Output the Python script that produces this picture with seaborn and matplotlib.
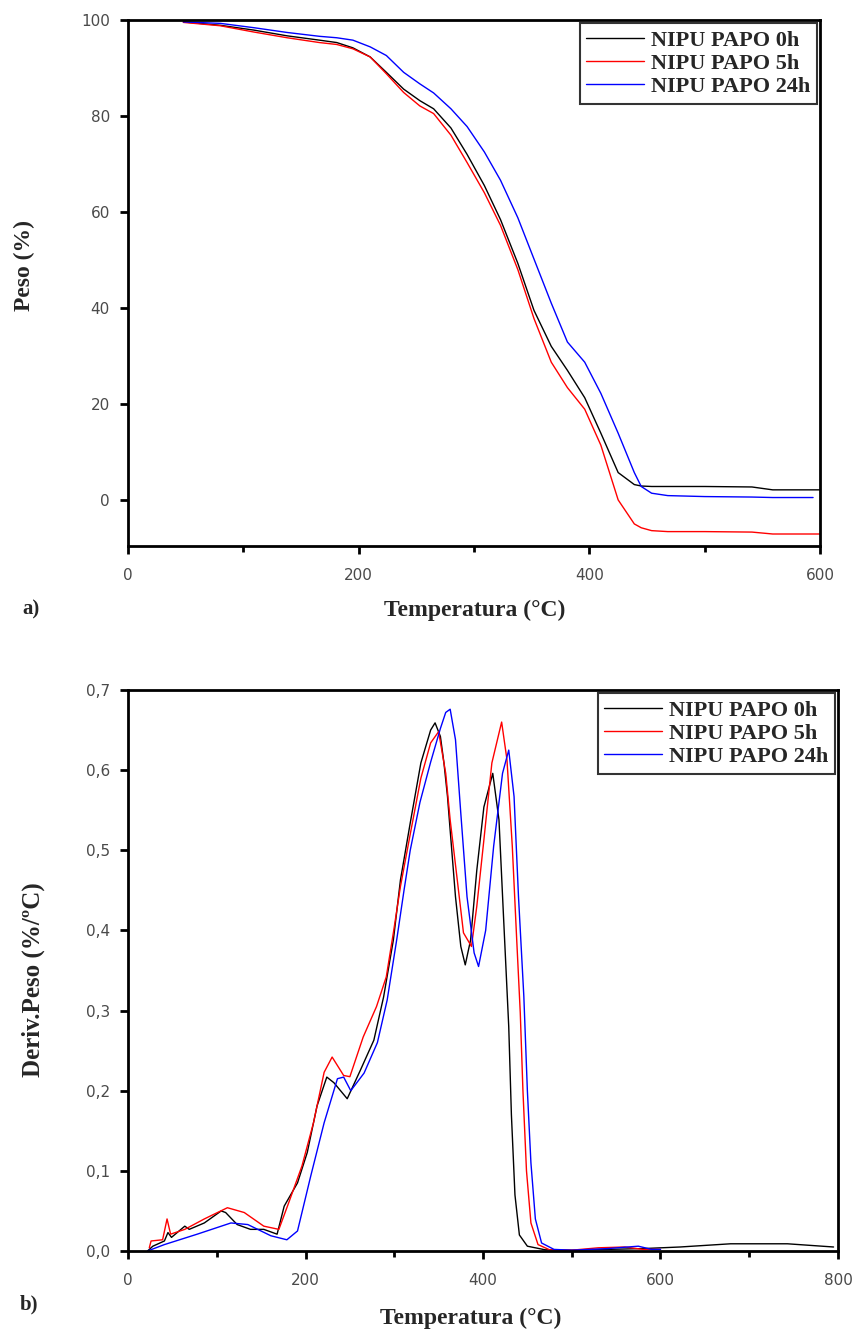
import numpy as np
import pandas as pd
import matplotlib
matplotlib.use("Agg")
import matplotlib.pyplot as plt
import seaborn as sns
from matplotlib.ticker import FixedLocator, FuncFormatter

series_names = ["NIPU PAPO 0h", "NIPU PAPO 5h", "NIPU PAPO 24h"]
colors = ["black", "red", "blue"]

# ---------------- Panel a: TGA (Peso %) ----------------
tga_T = [48, 80, 109, 138, 166, 181, 195, 210, 224, 239, 253, 265, 280, 294, 309,
         323, 338, 352, 367, 381, 396, 410, 425, 439, 445, 454, 468, 500, 541, 559,
         570, 594, 600]
tga_0h = [99.6, 98.9, 97.9, 96.7, 95.8, 95.3, 94.2, 92.3, 89.1, 85.6, 83.2, 81.5, 77.5, 72.0, 65.5,
          58.4, 49.3, 39.5, 32.0, 27.0, 21.3, 13.9, 5.7, 3.2, 2.9, 2.8, 2.8, 2.8, 2.7, 2.1,
          2.1, 2.1, 2.1]
tga_5h = [99.5, 98.8, 97.5, 96.3, 95.3, 94.9, 94.0, 92.3, 88.8, 84.9, 82.1, 80.5, 76.0, 70.3, 64.0,
          57.2, 48.0, 37.8, 28.7, 23.4, 18.9, 11.4, 0.0, -5.0, -5.8, -6.4, -6.6, -6.6, -6.7, -7.1,
          -7.1, -7.1, -7.1]
tga_24h = [99.6, 99.3, 98.4, 97.4, 96.6, 96.3, 95.8, 94.4, 92.6, 89.1, 86.7, 84.8, 81.5, 77.8, 72.5,
           66.6, 58.8, 50.2, 41.0, 32.9, 28.7, 22.2, 13.9, 5.7, 2.8, 1.4, 0.9, 0.7, 0.6, 0.5,
           0.5, 0.5, np.nan]

# ---------------- Panel b: DTG ----------------
dtg0_T = [22, 28, 41, 45, 49, 64, 69, 86, 105, 110, 123, 138, 153, 168, 176, 191, 202, 213,
          224, 232, 247, 262, 277, 288, 299, 307, 318, 330, 341, 346, 352, 356, 360, 363,
          369, 375, 380, 386, 393, 401, 411, 418, 423, 429, 432, 436, 441, 450, 470, 500,
          540, 580, 622, 679, 743, 795]
dtg0_D = [0.0, 0.006, 0.0125, 0.023, 0.017, 0.031, 0.027, 0.035, 0.050, 0.048, 0.033, 0.027,
          0.027, 0.021, 0.056, 0.085, 0.123, 0.181, 0.217, 0.210, 0.190, 0.226, 0.263, 0.317,
          0.388, 0.463, 0.534, 0.609, 0.650, 0.659, 0.642, 0.609, 0.567, 0.525,
          0.442, 0.380, 0.357, 0.388, 0.475, 0.554, 0.596, 0.538, 0.420, 0.280, 0.170, 0.070,
          0.020, 0.006, 0.0015, 0.001, 0.002, 0.003, 0.005, 0.009, 0.009, 0.005]

dtg5_T = [24, 26, 39, 44, 48, 64, 86, 112, 131, 153, 170, 181, 196, 209, 221, 230, 243, 250,
          265, 280, 291, 299, 307, 318, 330, 341, 350, 358, 363, 371, 378, 387, 393, 401,
          410, 421, 427, 433, 438, 442, 445, 449, 454, 462, 475, 500, 530, 560, 580, 600]
dtg5_D = [0.004, 0.0125, 0.014, 0.040, 0.021, 0.027, 0.040, 0.054, 0.048, 0.031, 0.027, 0.060,
          0.106, 0.160, 0.223, 0.242, 0.219, 0.2175, 0.267, 0.305, 0.342, 0.397, 0.455, 0.520,
          0.590, 0.634, 0.648, 0.596, 0.538, 0.463, 0.397, 0.380, 0.430, 0.513,
          0.609, 0.660, 0.613, 0.505, 0.388, 0.297, 0.200, 0.100, 0.035, 0.008, 0.0015, 0.001,
          0.004, 0.005, 0.002, 0.002]

dtg24_T = [22, 41, 78, 116, 135, 161, 179, 191, 206, 221, 236, 243, 251, 266, 281, 292, 303,
           311, 318, 329, 341, 352, 358, 363, 369, 375, 382, 390, 395, 403, 412, 422, 429,
           435, 440, 446, 450, 454, 459, 466, 480, 500, 540, 575, 590, 600]
dtg24_D = [0.0, 0.008, 0.021, 0.035, 0.033, 0.019, 0.014, 0.025, 0.094, 0.160, 0.215, 0.217,
           0.200, 0.222, 0.260, 0.313, 0.390, 0.450, 0.500, 0.560, 0.610, 0.652, 0.672, 0.676,
           0.638, 0.546, 0.442, 0.372, 0.355, 0.400, 0.505, 0.596, 0.625, 0.567, 0.442, 0.318,
           0.200, 0.110, 0.040, 0.010, 0.002, 0.001, 0.003, 0.006, 0.002, 0.002]

tga_df = pd.concat([
    pd.DataFrame({"T": tga_T, "W": tga_0h, "s": series_names[0]}),
    pd.DataFrame({"T": tga_T, "W": tga_5h, "s": series_names[1]}),
    pd.DataFrame({"T": tga_T, "W": tga_24h, "s": series_names[2]}),
], ignore_index=True)
dtg_df = pd.concat([
    pd.DataFrame({"T": dtg0_T, "D": dtg0_D, "s": series_names[0]}),
    pd.DataFrame({"T": dtg5_T, "D": dtg5_D, "s": series_names[1]}),
    pd.DataFrame({"T": dtg24_T, "D": dtg24_D, "s": series_names[2]}),
], ignore_index=True)

sns.set_style("ticks")
plt.rcParams["font.family"] = ["DejaVu Sans"]

W, H = 858, 1335
fig = plt.figure(figsize=(W / 100, H / 100), dpi=100)

def axes_px(l, t, r, b):
    return fig.add_axes([l / W, 1 - b / H, (r - l) / W, (b - t) / H])

ax1 = axes_px(128, 20, 820, 546)
ax2 = axes_px(128, 690, 838, 1251)

palette = dict(zip(series_names, colors))
sns.lineplot(data=tga_df, x="T", y="W", hue="s", palette=palette, hue_order=series_names,
             estimator=None, sort=False, linewidth=1.0, ax=ax1)
sns.lineplot(data=dtg_df, x="T", y="D", hue="s", palette=palette, hue_order=series_names,
             estimator=None, sort=False, linewidth=1.0, ax=ax2)

serif_bold = dict(family=["Liberation Serif"], weight="bold")
tick_color = "#4a4a4a"

for ax in (ax1, ax2):
    for sp in ax.spines.values():
        sp.set_visible(True)
        sp.set_linewidth(2.0)
        sp.set_color("black")
    ax.tick_params(axis="both", which="major", direction="out", length=6, width=2.0,
                   labelsize=11, labelcolor=tick_color, color="black")
    ax.tick_params(axis="both", which="minor", direction="out", length=4, width=2.0,
                   color="black")
    ax.tick_params(axis="x", which="major", pad=10)
    ax.tick_params(axis="y", which="major", pad=7)
    leg = ax.legend(loc="upper right", frameon=True, fancybox=False, edgecolor="black",
                    prop=dict(family="Liberation Serif", weight="bold", size=16),
                    handlelength=2.6, handletextpad=0.3, borderaxespad=0.15,
                    labelspacing=0.12, borderpad=0.3)
    leg.get_frame().set_linewidth(1.5)
    for line in leg.get_lines():
        line.set_linewidth(1.0)

ax1.set_xlim(0, 600)
ax1.set_ylim(-9.6, 100)
ax1.xaxis.set_major_locator(FixedLocator([0, 200, 400, 600]))
ax1.xaxis.set_minor_locator(FixedLocator([100, 300, 500]))
ax1.yaxis.set_major_locator(FixedLocator([0, 20, 40, 60, 80, 100]))
ax1.set_xlabel("Temperatura (°C)", fontdict=dict(serif_bold, size=17))
ax1.xaxis.set_label_coords(0.501, -0.103)
ax1.set_ylabel("Peso (%)", fontdict=dict(serif_bold, size=17))
ax1.yaxis.set_label_coords(-0.134, 0.534)

ax2.set_xlim(0, 800)
ax2.set_ylim(0, 0.7)
ax2.xaxis.set_major_locator(FixedLocator([0, 200, 400, 600, 800]))
ax2.xaxis.set_minor_locator(FixedLocator([100, 300, 500, 700]))
ax2.yaxis.set_major_locator(FixedLocator([0, 0.1, 0.2, 0.3, 0.4, 0.5, 0.6, 0.7]))
ax2.yaxis.set_major_formatter(FuncFormatter(lambda v, p: f"{v:.1f}".replace(".", ",")))
ax2.set_xlabel("Temperatura (°C)", fontdict=dict(serif_bold, size=17))
ax2.xaxis.set_label_coords(0.482, -0.101)
ax2.set_ylabel("Deriv.Peso (%/ºC)", fontdict=dict(serif_bold, size=18))
ax2.yaxis.set_label_coords(-0.117, 0.483)

fig.text(22 / W, 1 - 609 / H, "a)", fontdict=dict(serif_bold, size=15), va="center", ha="left")
fig.text(20 / W, 1 - 1304 / H, "b)", fontdict=dict(serif_bold, size=15), va="center", ha="left")

fig.savefig("out.png", dpi=100, facecolor="white")
